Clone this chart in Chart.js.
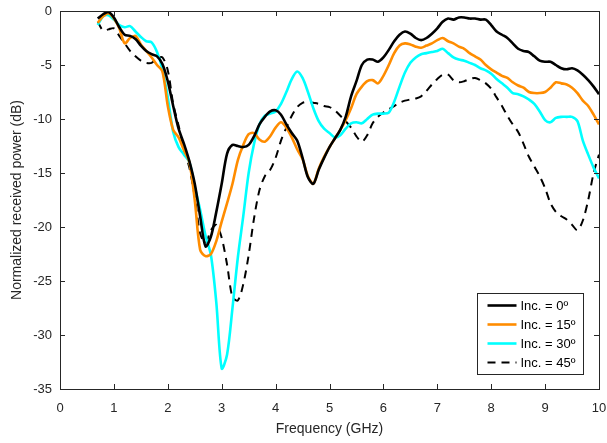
<!DOCTYPE html>
<html>
<head>
<meta charset="utf-8">
<script src="https://cdn.jsdelivr.net/npm/chart.js@4.4.0/dist/chart.umd.min.js"></script>
<style>
html,body{margin:0;padding:0;background:#fff;}
#wrap{width:607px;height:443px;position:relative;}
</style>
</head>
<body>
<div id="wrap"><canvas id="c" width="607" height="443"></canvas></div>
<script>
const freq = [0.7,0.8,0.9,1.0,1.1,1.2,1.3,1.4,1.5,1.6,1.7,1.8,1.9,2.0,2.1,2.2,2.3,2.4,2.5,2.6,2.7,2.8,2.9,3.0,3.1,3.2,3.3,3.4,3.5,3.6,3.7,3.8,3.9,4.0,4.1,4.2,4.3,4.4,4.5,4.6,4.7,4.8,4.9,5.0,5.1,5.2,5.3,5.4,5.5,5.6,5.7,5.8,5.9,6.0,6.1,6.2,6.3,6.4,6.5,6.6,6.7,6.8,6.9,7.0,7.1,7.2,7.3,7.4,7.5,7.6,7.7,7.8,7.9,8.0,8.1,8.2,8.3,8.4,8.5,8.6,8.7,8.8,8.9,9.0,9.1,9.2,9.3,9.4,9.5,9.6,9.7,9.8,9.9,10.0];

const inc0 = [-0.7,-0.3,-0.1,-0.6,-1.5,-2.2,-2.3,-2.6,-3.2,-3.7,-4.0,-4.2,-4.9,-6.5,-8.8,-10.9,-12.3,-13.9,-16.0,-19.0,-21.8,-20.9,-18.6,-16.0,-13.2,-12.4,-12.5,-12.6,-12.4,-11.6,-10.5,-9.8,-9.3,-9.2,-9.6,-10.5,-11.3,-12.0,-13.6,-15.4,-16.0,-14.7,-13.6,-12.6,-11.8,-11.0,-9.8,-7.9,-6.5,-5.0,-4.5,-4.5,-4.7,-4.3,-3.6,-2.8,-2.2,-1.9,-2.1,-2.5,-2.7,-2.5,-2.1,-1.6,-1.0,-0.7,-0.8,-0.6,-0.6,-0.7,-0.7,-0.8,-0.8,-1.3,-1.9,-2.2,-2.5,-3.0,-3.5,-3.7,-3.8,-4.2,-4.6,-4.7,-4.7,-5.0,-5.3,-5.4,-5.3,-5.5,-5.9,-6.4,-7.0,-7.7];

const inc15 = [-1.1,-0.5,-0.2,-0.7,-1.6,-3.0,-2.5,-2.3,-3.1,-3.7,-4.3,-5.0,-5.6,-8.8,-11.0,-11.7,-12.9,-14.0,-17.5,-22.1,-22.7,-22.5,-21.3,-19.5,-17.8,-16.0,-13.8,-12.4,-11.4,-11.3,-11.9,-12.1,-11.6,-10.8,-10.3,-10.8,-11.7,-12.8,-13.7,-15.3,-16.0,-14.6,-13.5,-12.6,-11.8,-11.0,-10.1,-9.0,-7.7,-7.0,-6.5,-6.4,-6.7,-6.0,-5.0,-3.9,-3.2,-3.0,-3.1,-3.3,-3.4,-3.2,-3.0,-2.7,-2.5,-2.8,-3.0,-3.3,-3.5,-3.9,-4.2,-4.5,-5.0,-5.4,-5.7,-6.0,-6.2,-6.6,-6.9,-7.1,-7.5,-7.6,-7.6,-7.5,-7.1,-6.6,-6.7,-6.8,-7.1,-7.6,-8.3,-8.8,-9.6,-10.5];

const inc30 = [-1.3,-0.5,-0.4,-0.8,-1.3,-1.5,-1.4,-1.9,-2.4,-2.8,-2.9,-3.8,-5.4,-8.0,-11.2,-12.6,-13.3,-14.0,-16.3,-18.4,-20.8,-22.6,-27.0,-33.1,-31.8,-27.5,-22.8,-19.0,-15.0,-12.3,-10.5,-9.7,-9.5,-9.3,-8.6,-7.5,-6.3,-5.6,-6.2,-7.5,-9.0,-10.2,-10.9,-11.3,-11.7,-11.5,-10.9,-10.4,-10.3,-10.4,-10.0,-9.6,-9.5,-9.5,-9.4,-8.4,-7.0,-5.7,-4.8,-4.3,-4.0,-3.9,-3.8,-3.7,-3.5,-3.9,-4.3,-4.5,-4.6,-4.8,-5.0,-5.3,-5.5,-5.8,-6.3,-6.7,-7.1,-7.6,-7.7,-7.9,-8.2,-8.6,-9.3,-10.1,-10.3,-9.9,-9.8,-9.8,-9.8,-10.2,-12.0,-13.3,-14.5,-15.5];

const inc45 = [-1.0,-1.8,-1.7,-1.6,-2.3,-3.0,-3.7,-4.2,-4.6,-4.8,-4.8,-4.4,-4.3,-5.5,-8.6,-10.6,-12.8,-14.5,-17.2,-20.6,-21.5,-20.3,-19.8,-21.0,-23.5,-26.5,-26.8,-25.3,-22.6,-19.2,-16.6,-15.3,-14.7,-13.6,-12.0,-10.8,-9.7,-8.9,-8.5,-8.4,-8.5,-8.6,-8.8,-8.9,-9.2,-9.7,-10.2,-10.8,-11.6,-12.1,-11.5,-10.4,-9.8,-9.4,-9.1,-8.8,-8.5,-8.3,-8.2,-8.1,-7.9,-7.4,-6.8,-6.3,-5.9,-5.9,-6.4,-6.6,-6.5,-6.3,-6.2,-6.4,-6.7,-7.2,-8.0,-8.8,-9.7,-10.5,-11.2,-12.3,-13.5,-14.4,-15.3,-16.4,-17.8,-18.6,-19.0,-19.3,-19.8,-20.3,-19.4,-17.5,-15.0,-13.3];

const seriesLabels = ['Inc. = 0º','Inc. = 15º','Inc. = 30º','Inc. = 45º'];
const xTicks = [0,1,2,3,4,5,6,7,8,9,10];
const yTicks = [-35,-30,-25,-20,-15,-10,-5,0];

const FONT = '"Liberation Sans", Arial, Helvetica, sans-serif';
const AX = '#262626';

function pts(ys){ return freq.map((f,i)=>({x:f,y:ys[i]})); }

const ticksAndBox = {
  id:'ticksAndBox',
  afterDatasetsDraw(chart){
    const {ctx, chartArea:a, scales:{x,y}} = chart;
    ctx.save();
    ctx.strokeStyle = AX; ctx.lineWidth = 1;
    const L = 5;
    ctx.beginPath();
    xTicks.forEach(v=>{
      const px = Math.round(x.getPixelForValue(v))+0.5;
      ctx.moveTo(px,a.bottom); ctx.lineTo(px,a.bottom-L);
      ctx.moveTo(px,a.top); ctx.lineTo(px,a.top+L);
    });
    yTicks.forEach(v=>{
      const py = Math.round(y.getPixelForValue(v))+0.5;
      ctx.moveTo(a.left,py); ctx.lineTo(a.left+L,py);
      ctx.moveTo(a.right,py); ctx.lineTo(a.right-L,py);
    });
    ctx.stroke();
    ctx.strokeRect(Math.round(a.left)+0.5, Math.round(a.top)+0.5, Math.round(a.right-a.left), Math.round(a.bottom-a.top));
    // legend
    const w = 106, h = 81;
    const lx = Math.round(a.right - 16 - w)+0.5, ly = Math.round(a.bottom - 15 - h)+0.5;
    ctx.fillStyle = '#fff';
    ctx.fillRect(lx, ly, w, h);
    ctx.strokeStyle = AX;
    ctx.strokeRect(lx, ly, w, h);
    ctx.font = '13px ' + FONT;
    ctx.textBaseline = 'middle';
    chart.data.datasets.forEach((ds,i)=>{
      const yy = ly + 12 + i*19;
      ctx.strokeStyle = ds.borderColor;
      ctx.lineWidth = ds.borderWidth;
      ctx.setLineDash(ds.borderDash || []);
      ctx.beginPath(); ctx.moveTo(lx+10, yy); ctx.lineTo(lx+39, yy); ctx.stroke();
      ctx.setLineDash([]);
      ctx.fillStyle = '#000';
      ctx.fillText(ds.label, lx+43, yy+1);
    });
    ctx.restore();
  }
};

new Chart(document.getElementById('c'), {
  type:'line',
  data:{
    datasets:[
      {label:seriesLabels[0], data:pts(inc0), borderColor:'#000000', borderWidth:2.6, pointRadius:0, tension:0.3, fill:false},
      {label:seriesLabels[1], data:pts(inc15), borderColor:'#FF8C00', borderWidth:2.6, pointRadius:0, tension:0.3, fill:false},
      {label:seriesLabels[2], data:pts(inc30), borderColor:'#00FFFF', borderWidth:2.6, pointRadius:0, tension:0.3, fill:false},
      {label:seriesLabels[3], data:pts(inc45), borderColor:'#000000', borderWidth:2, borderDash:[8,6], pointRadius:0, tension:0.3, fill:false}
    ]
  },
  options:{
    responsive:false,
    animation:false,
    devicePixelRatio:1,
    layout:{padding:{left:0,right:8,top:11,bottom:0}},
    plugins:{legend:{display:false}, tooltip:{enabled:false}},
    scales:{
      x:{
        type:'linear', min:0, max:10,
        afterBuildTicks(s){ s.ticks = xTicks.map(v=>({value:v})); },
        afterFit(s){ s.height = 54; s.paddingLeft = 0; s.paddingRight = 0; },
        grid:{display:false, drawTicks:false},
        border:{display:false},
        ticks:{color:AX, font:{family:FONT,size:13}, padding:12, maxRotation:0},
        title:{display:true, text:'Frequency (GHz)', color:AX, font:{family:FONT,size:14}, padding:{top:2,bottom:5}}
      },
      y:{
        type:'linear', min:-35, max:0,
        afterBuildTicks(s){ s.ticks = yTicks.map(v=>({value:v})); },
        afterFit(s){ s.width = 60; s.paddingTop = 0; s.paddingBottom = 0; },
        grid:{display:false, drawTicks:false},
        border:{display:false},
        ticks:{color:AX, font:{family:FONT,size:13}, padding:8},
        title:{display:true, text:'Normalized received power (dB)', color:AX, font:{family:FONT,size:14}, padding:{top:9,bottom:0}}
      }
    }
  },
  plugins:[ticksAndBox]
});
</script>
</body>
</html>
